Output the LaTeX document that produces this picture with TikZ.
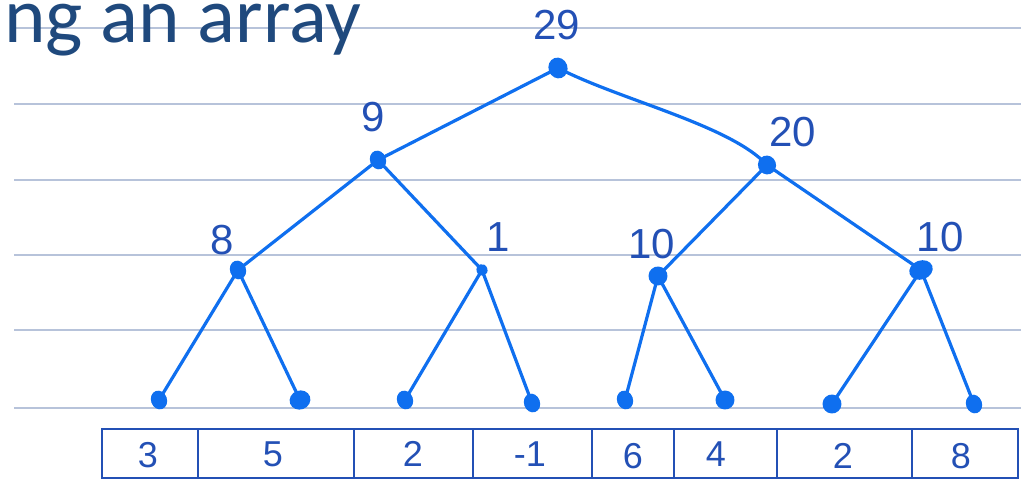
\documentclass[tikz,border=0pt]{standalone}
\usepackage{fontspec}
\setmainfont{Carlito}
\newfontfamily\handfont{Liberation Sans}
\definecolor{rule}{HTML}{B7C3DA}
\definecolor{titleblue}{HTML}{1F497D}
\definecolor{treeblue}{HTML}{0F6FEF}
\definecolor{inkblue}{HTML}{2350B5}
\usetikzlibrary{shapes.geometric}
\tikzset{
  ruleline/.style={draw=rule, line width=1.8pt},
  edge/.style={draw=treeblue, line width=3.2pt, line cap=round},
  dot/.style={ellipse, fill=treeblue, minimum width=16pt, minimum height=19pt, inner sep=0pt, rotate=20},
  lbl/.style={text=inkblue, font=\handfont\fontsize{42}{44}\selectfont, inner sep=0pt},
  cellbox/.style={draw=inkblue, line width=2.8pt},
  cell/.style={text=inkblue, font=\handfont\fontsize{36}{38}\selectfont, inner sep=0pt},
}
\begin{document}
\begin{tikzpicture}[x=1pt,y=-1pt]
\useasboundingbox (0,0) rectangle (1021,481);
% ruled lines
\foreach \yy in {28,104,180,255,330,408} {
  \draw[ruleline] (14,\yy) -- (1021,\yy);
}
% title
\node[anchor=base west, inner sep=0pt, text=titleblue, font=\fontsize{79}{82}\selectfont] (title) at (4,43) {ng an array};
% tree nodes
\node[dot, minimum width=19pt, minimum height=21pt] (r) at (558,68) {};
\node[dot] (a) at (378,160) {};
\node[dot, minimum width=18pt] (b) at (767,165) {};
\node[dot] (aa) at (238,270) {};
\node[dot, minimum width=11pt, minimum height=12pt] (ab) at (482,270) {};
\node[dot, minimum width=19pt] (ba) at (658,276) {};
\node[dot, minimum width=24pt] (bb) at (921,270) {};
\node[dot] (l1) at (159,400) {};
\node[dot, minimum width=21pt] (l2) at (300,400) {};
\node[dot] (l3) at (405,400) {};
\node[dot] (l4) at (532,403) {};
\node[dot] (l5) at (625,400) {};
\node[dot, minimum width=19pt] (l6) at (725,400) {};
\node[dot, minimum width=19pt] (l7) at (832,404) {};
\node[dot] (l8) at (974,404) {};
% edges
\draw[edge] (r.center) -- (a.center);
\draw[edge] (r.center) .. controls (620,100) and (730,125) .. (b.center);
\draw[edge] (a.center) -- (aa.center);
\draw[edge] (a.center) -- (ab.center);
\draw[edge] (b.center) -- (ba.center);
\draw[edge] (b.center) -- (bb.center);
\draw[edge] (aa.center) -- (l1.center);
\draw[edge] (aa.center) -- (l2.center);
\draw[edge] (ab.center) -- (l3.center);
\draw[edge] (ab.center) -- (l4.center);
\draw[edge] (ba.center) -- (l5.center);
\draw[edge] (ba.center) -- (l6.center);
\draw[edge] (bb.center) -- (l7.center);
\draw[edge] (bb.center) -- (l8.center);
% labels
\node[lbl] (t29) at (557,25) {29};
\node[lbl] (t9) at (373,117) {9};
\node[lbl] (t20) at (793,132) {20};
\node[lbl] (t8) at (222,240) {8};
\node[lbl] (t1) at (498,237) {1};
\node[lbl] (t10a) at (652,244) {10};
\node[lbl] (t10b) at (940,237) {10};
% array
\draw[cellbox] (102,429) rectangle (1018,478);
\foreach \xx in {198,354,473,592,674,777,912} {
  \draw[cellbox] (\xx,429) -- (\xx,478);
}
\node[cell] (c1) at (148,455) {3};
\node[cell] (c2) at (273,454) {5};
\node[cell] (c3) at (413,454) {2};
\node[cell] (c4) at (530,454) {-1};
\node[cell] (c5) at (633,456) {6};
\node[cell] (c6) at (716,454) {4};
\node[cell] (c7) at (843,456) {2};
\node[cell] (c8) at (961,456) {8};
\end{tikzpicture}
\end{document}
